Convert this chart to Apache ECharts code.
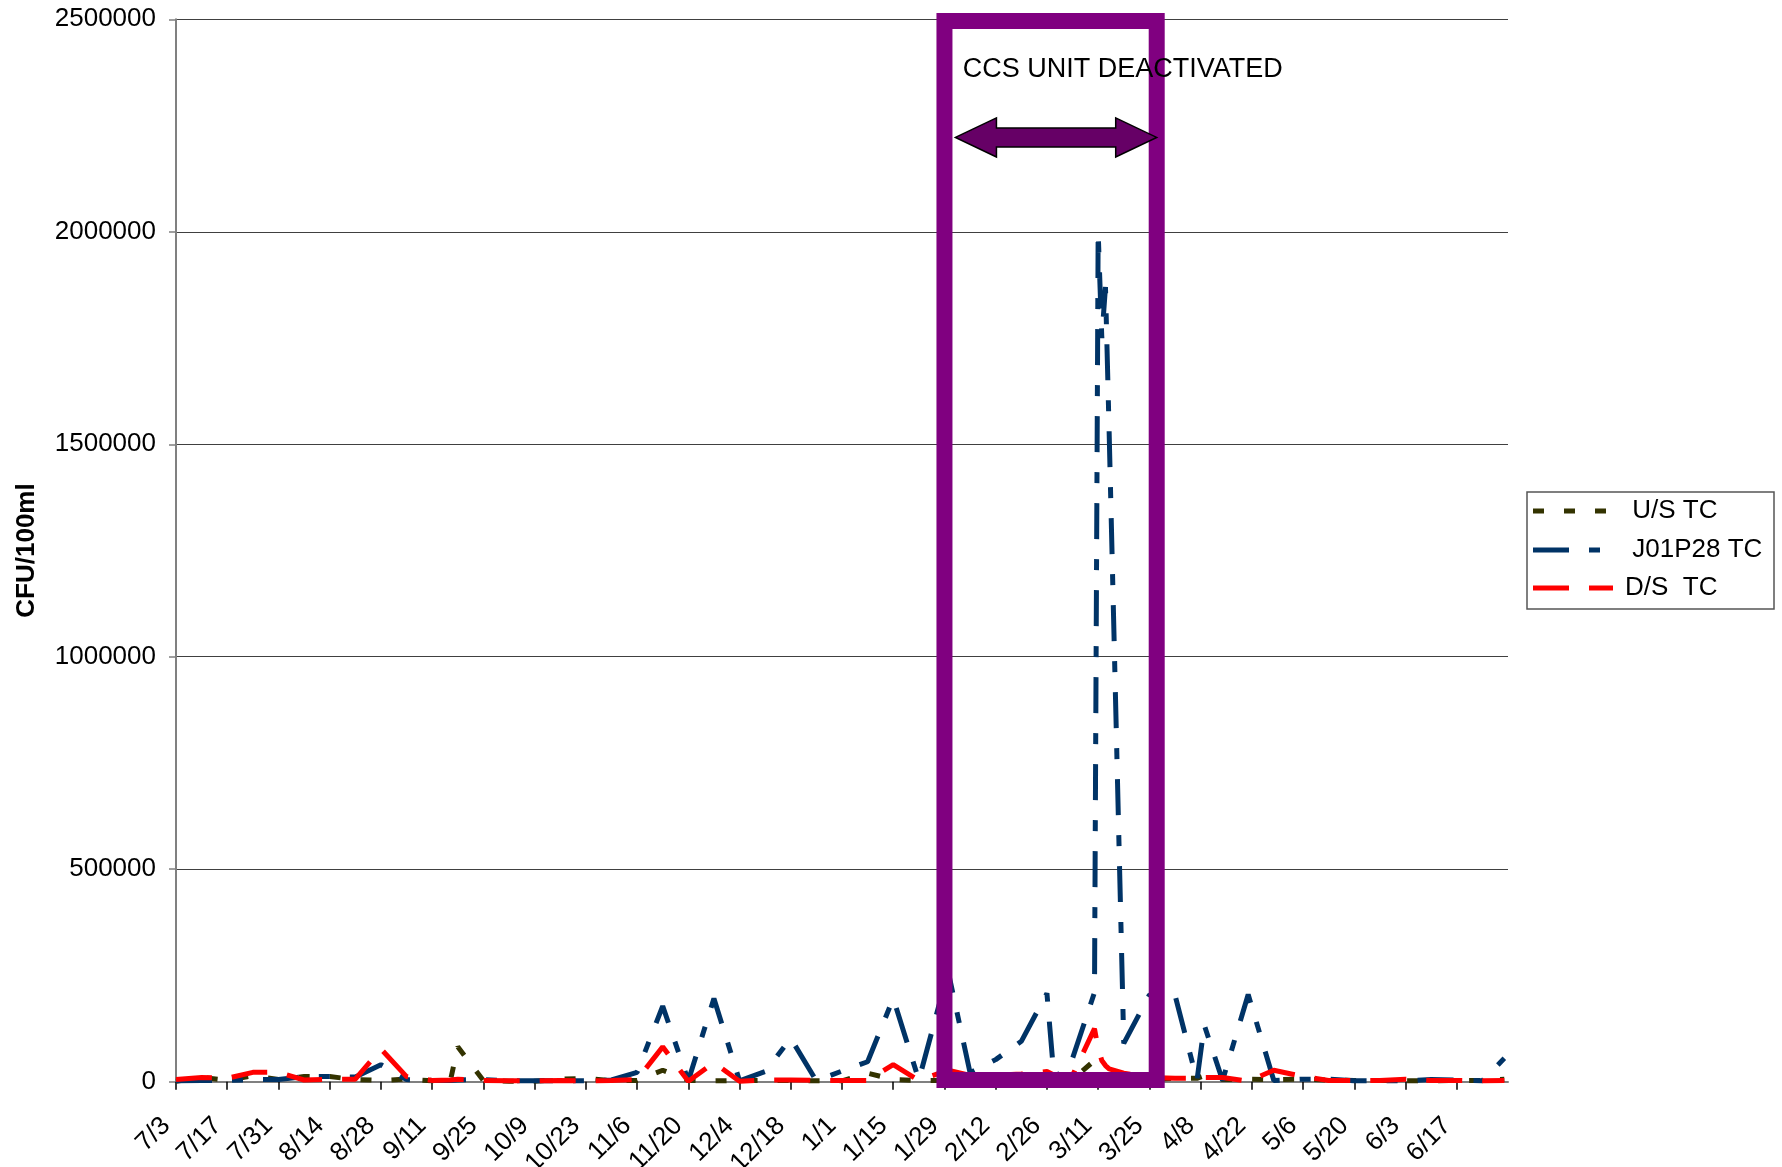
<!DOCTYPE html>
<html>
<head>
<meta charset="utf-8">
<script src="https://cdn.jsdelivr.net/npm/echarts@6/dist/echarts.min.js"></script>
<style>
html,body{margin:0;padding:0;background:#fff;}
#c{width:1782px;height:1167px;}
</style>
</head>
<body>
<div id="c"></div>
<script>
// ---- data ----
const sampleDates = [
 '2007-07-03','2007-07-10','2007-07-17','2007-07-24','2007-07-31',
 '2007-08-07','2007-08-14','2007-08-21','2007-08-28',
 '2007-09-04','2007-09-11','2007-09-16','2007-09-18','2007-09-25',
 '2007-10-02','2007-10-09','2007-10-16','2007-10-23','2007-10-30',
 '2007-11-06','2007-11-13','2007-11-20','2007-11-27',
 '2007-12-04','2007-12-11','2007-12-18','2007-12-25',
 '2008-01-01','2008-01-08','2008-01-15','2008-01-22','2008-01-30',
 '2008-02-05','2008-02-12','2008-02-19','2008-02-26','2008-02-28',
 '2008-03-04','2008-03-10','2008-03-11','2008-03-12','2008-03-13','2008-03-14','2008-03-18','2008-03-25',
 '2008-04-01','2008-04-07','2008-04-09','2008-04-14','2008-04-21','2008-04-28',
 '2008-05-06','2008-05-13','2008-05-20','2008-05-27',
 '2008-06-03','2008-06-10','2008-06-17','2008-06-24','2008-06-30'
];
const usTC = [
 1000,10000,3000,14000,5000,
 12000,12000,5000,3000,
 6000,2000,3000,82000,3000,
 1000,1000,6000,8000,2000,
 3000,27000,3000,2000,
 3000,3000,3000,2000,
 2000,20000,5000,3000,3000,
 3000,3000,3000,3000,3000,
 5000,50000,25000,10000,8000,6000,5000,5000,
 8000,8000,14000,5000,6000,5000,
 6000,4000,3000,3000,
 2000,2000,3000,3000,6000
];
const j01p28TC = [
 2000,3000,3000,5000,5000,
 12000,12000,11000,40000,
 5000,3000,3000,4000,5000,
 2000,2000,2000,2000,4000,
 22000,178000,2000,196000,
 2000,24000,102000,2000,
 25000,47000,196000,4000,260000,
 21000,52000,95000,208000,5000,
 55000,210000,2000000,1750000,1870000,1530000,90000,204000,
 204000,3000,133000,3000,205000,3000,
 6000,6000,2000,2000,
 2000,5000,4000,2000,55000
];
const dsTC = [
 5000,10000,8000,22000,22000,
 4000,6000,6000,77000,
 12000,3000,4000,6000,3000,
 2000,2000,3000,2000,3000,
 5000,82000,1000,45000,
 1000,4000,4000,3000,
 3000,3000,40000,3000,27000,
 15000,15000,18000,24000,15000,
 15000,125000,77000,50000,38000,30000,20000,10000,
 8000,8000,10000,10000,1000,27000,
 12000,3000,3000,3000,
 6000,3000,3000,2000,3000
];
const tickLabels = ['7/3','7/17','7/31','8/14','8/28','9/11','9/25','10/9','10/23','11/6','11/20','12/4','12/18',
 '1/1','1/15','1/29','2/12','2/26','3/11','3/25','4/8','4/22','5/6','5/20','6/3','6/17'];
const seriesNames = [' U/S TC', ' J01P28 TC', 'D/S  TC'];
const seriesColors = ['#333300', '#003366', '#ff0000'];
const seriesDashes = [[11,20], [36,20,11,20], [36,20]];
const annotationText = 'CCS UNIT DEACTIVATED';
// annotation anchors in data space
const boxFrom = ['2008-01-29', 2496000];
const boxTo = ['2008-03-27', 4000];
const arrowFrom = ['2008-02-01', 2222000];
const arrowTo = ['2008-03-27', 2222000];
const textAt = ['2008-02-03', 2382000];

// ---- helpers ----
const startUTC = Date.UTC(2007, 6, 3);
function dayOf(s){ const p = s.split('-').map(Number); return (Date.UTC(p[0], p[1]-1, p[2]) - startUTC)/86400000; }
function pairs(vals){ return sampleDates.map((d,i)=>[dayOf(d), vals[i]]); }

const FONT = 'Liberation Sans, Arial, Helvetica, sans-serif';
const chart = echarts.init(document.getElementById('c'), null, {renderer:'canvas'});

const valueSets = [usTC, j01p28TC, dsTC];
const option = {
  animation:false,
  backgroundColor:'#ffffff',
  textStyle:{fontFamily:FONT},
  grid:{left:176, right:274, top:19.3, bottom:85.3, containLabel:false, outerBoundsMode:'none'},
  xAxis:{
    type:'value', min:0, max:364, interval:14,
    axisLine:{show:true, onZero:false, lineStyle:{color:'#808080', width:2}},
    axisTick:{show:true, length:8, lineStyle:{color:'#000', width:1.5}},
    splitLine:{show:false},
    axisLabel:{
      rotate:45, fontSize:26, color:'#000', fontFamily:FONT, margin:30, padding:[0,14,0,0],
      showMaxLabel:false, showMinLabel:true,
      formatter:function(v){ const i = Math.round(v/14); return i < tickLabels.length ? tickLabels[i] : ''; }
    }
  },
  yAxis:{
    type:'value', min:0, max:2500000, interval:500000,
    name:'CFU/100ml', nameLocation:'middle', nameGap:136, nameRotate:90,
    nameTextStyle:{fontSize:26, fontWeight:'bold', color:'#000', fontFamily:FONT},
    axisLine:{show:true, lineStyle:{color:'#808080', width:2}},
    axisTick:{show:true, length:7, lineStyle:{color:'#808080', width:1.5}},
    splitLine:{show:true, lineStyle:{color:'#404040', width:1}},
    axisLabel:{fontSize:26, color:'#000', fontFamily:FONT, margin:20, formatter:function(v){return String(v);}}
  },
  series: seriesNames.map((n,k)=>({
    name:n, type:'line', symbol:'none', data:pairs(valueSets[k]),
    lineStyle:{color:seriesColors[k], width:5, type:seriesDashes[k], cap:'butt'},
    itemStyle:{color:seriesColors[k]}
  }))
};
chart.setOption(option);

function px(pt){ return chart.convertToPixel({gridIndex:0}, [dayOf(pt[0]), pt[1]]); }
const b1 = px(boxFrom), b2 = px(boxTo);
const aL = px(arrowFrom), aR = px(arrowTo);
const tp = px(textAt);
const headLen = 41, headHalf = 19.5, shaftHalf = 9.5;
const y = aL[1], xl = aL[0], xr = aR[0];
const arrowPts = [
  [xl, y], [xl+headLen, y-headHalf], [xl+headLen, y-shaftHalf], [xr-headLen, y-shaftHalf],
  [xr-headLen, y-headHalf], [xr, y], [xr-headLen, y+headHalf], [xr-headLen, y+shaftHalf],
  [xl+headLen, y+shaftHalf], [xl+headLen, y+headHalf]
];

// legend (drawn by hand so the dash patterns match)
const LEG = {left:1527, top:492, width:247, height:117, lineX0:1533, lineX1:1613, textX:1625, rowY:[511,550,588]};
const legendEls = [
  {type:'rect', z:110, shape:{x:LEG.left, y:LEG.top, width:LEG.width, height:LEG.height},
   style:{fill:'#fff', stroke:'#555', lineWidth:1.5}}
];
seriesNames.forEach((n,k)=>{
  legendEls.push({type:'line', z:111, shape:{x1:LEG.lineX0, y1:LEG.rowY[k], x2:LEG.lineX1, y2:LEG.rowY[k]},
    style:{stroke:seriesColors[k], lineWidth:5, lineDash:seriesDashes[k], lineCap:'butt'}});
  legendEls.push({type:'text', z:111, x:LEG.textX, y:LEG.rowY[k],
    style:{text:n, fill:'#000', font:'26px ' + FONT, textAlign:'left', textVerticalAlign:'middle'}});
});

chart.setOption({
  graphic:[
    {type:'rect', z:100, shape:{x:b1[0], y:b1[1], width:b2[0]-b1[0], height:b2[1]-b1[1]},
     style:{fill:'none', stroke:'#800080', lineWidth:16, lineJoin:'miter'}},
    {type:'polygon', z:101, shape:{points:arrowPts},
     style:{fill:'#660066', stroke:'#000', lineWidth:1.5, lineJoin:'miter'}},
    {type:'text', z:102, x:tp[0], y:tp[1],
     style:{text:annotationText, fill:'#000', font:'27px ' + FONT, textAlign:'left', textVerticalAlign:'middle'}}
  ].concat(legendEls)
});
</script>
</body>
</html>
